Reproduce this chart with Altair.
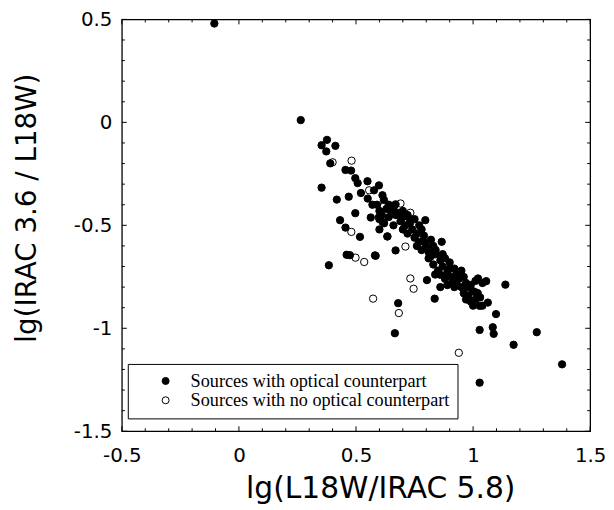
import altair as alt
import pandas as pd

# ---- data ----
opt_x = [-0.105, 0.264, 0.376, 0.353, 0.412, 0.373, 0.390, 0.455, 0.479, 0.353,
         0.497, 0.507, 0.549, 0.598, 0.577, 0.521, 0.418, 0.469, 0.613, 0.619,
         0.669, 0.497, 0.563, 0.598, 0.613, 0.432, 0.455, 0.517, 0.634, 0.796,
         0.866, 0.669, 0.584, 0.460, 0.474, 0.581, 0.384, 0.803, 0.838, 0.836,
         0.680, 0.666, 1.138, 1.056, 1.021, 1.014, 1.028, 1.063, 1.098, 1.028,
         1.084, 1.088, 1.173, 1.272, 1.380, 1.028,
         0.59, 0.60, 0.61, 0.63, 0.64, 0.62, 0.65, 0.66, 0.67, 0.60,
         0.68, 0.70, 0.69, 0.72, 0.71,
         0.73, 0.75, 0.74, 0.77, 0.76, 0.78,
         0.75, 0.77, 0.79, 0.80, 0.82, 0.78, 0.81, 0.83, 0.76,
         0.81, 0.84, 0.86, 0.83, 0.88, 0.87, 0.90, 0.85, 0.89, 0.92,
         0.86, 0.91, 0.93, 0.95, 0.94, 0.96, 0.88,
         0.93, 0.95, 0.97, 0.99, 0.96, 0.98, 1.00,
         0.97, 0.99, 1.01, 1.03, 1.00, 1.04,
         1.01, 1.04, 0.86, 0.89, 0.92,
         0.64, 0.66, 0.70, 0.73, 0.70, 0.72, 0.79, 0.84, 0.82, 0.87,
         0.90, 0.93, 0.98, 1.02, 0.91, 0.57, 0.55, 0.60]
opt_y = [0.48, 0.011, -0.085, -0.111, -0.114, -0.141, -0.199, -0.231, -0.234, -0.317,
         -0.271, -0.295, -0.286, -0.306, -0.330, -0.343, -0.375, -0.361, -0.354, -0.376,
         -0.398, -0.441, -0.462, -0.460, -0.483, -0.475, -0.511, -0.556, -0.554, -0.475,
         -0.580, -0.622, -0.648, -0.643, -0.645, -0.646, -0.694, -0.766, -0.739, -0.856,
         -0.878, -1.024, -0.788, -0.771, -0.758, -0.827, -0.891, -0.875, -0.931, -1.008,
         -0.995, -1.027, -1.080, -1.019, -1.175, -1.264,
         -0.40, -0.43, -0.45, -0.42, -0.46, -0.49, -0.43, -0.50, -0.45, -0.47,
         -0.44, -0.46, -0.48, -0.45, -0.50,
         -0.49, -0.47, -0.52, -0.50, -0.54, -0.52,
         -0.56, -0.58, -0.55, -0.60, -0.57, -0.62, -0.63, -0.60, -0.60,
         -0.66, -0.64, -0.67, -0.69, -0.66, -0.70, -0.68, -0.72, -0.73, -0.71,
         -0.74, -0.75, -0.73, -0.72, -0.76, -0.75, -0.76,
         -0.79, -0.80, -0.78, -0.79, -0.83, -0.84, -0.82,
         -0.86, -0.87, -0.86, -0.85, -0.89, -0.89,
         -0.77, -0.78, -0.80, -0.79, -0.80,
         -0.40, -0.42, -0.43, -0.47, -0.52, -0.54, -0.58, -0.62, -0.65, -0.64,
         -0.71, -0.76, -0.80, -0.83, -0.78, -0.40, -0.37, -0.52]

noopt_x = [0.400, 0.481, 0.556, 0.619, 0.690, 0.732, 0.480, 0.634, 0.711, 0.498,
           0.535, 0.732, 0.746, 0.573, 0.683, 0.939, 1.014]
noopt_y = [-0.194, -0.186, -0.330, -0.407, -0.394, -0.439, -0.532, -0.554, -0.603, -0.657,
           -0.678, -0.758, -0.808, -0.856, -0.926, -1.119, -0.827]

categories = ["Sources with optical counterpart", "Sources with no optical counterpart"]

x_major = [-0.5, 0, 0.5, 1, 1.5]
y_major = [-1.5, -1, -0.5, 0, 0.5]
x_minor = [-0.4, -0.3, -0.2, -0.1, 0.1, 0.2, 0.3, 0.4, 0.6, 0.7, 0.8, 0.9,
           1.1, 1.2, 1.3, 1.4]
y_minor = [-1.4, -1.3, -1.2, -1.1, -0.9, -0.8, -0.7, -0.6, -0.4, -0.3, -0.2, -0.1,
           0.1, 0.2, 0.3, 0.4]

# ---- tables ----
df = pd.concat([
    pd.DataFrame({"x": noopt_x, "y": noopt_y, "type": categories[1]}),
    pd.DataFrame({"x": opt_x, "y": opt_y, "type": categories[0]}),
], ignore_index=True)

W, H = 473, 416
FONT = "DejaVu Sans"

xscale = alt.Scale(domain=[-0.5, 1.5], nice=False, zero=False)
yscale = alt.Scale(domain=[-1.5, 0.5], nice=False, zero=False)

xaxis = alt.Axis(values=x_major, labelExpr="toString(datum.value)", ticks=False,
                 domain=False, grid=False, labelFlush=False, labelFont=FONT, labelFontSize=20,
                 labelColor="black", labelPadding=31, labelBaseline="alphabetic",
                 titleFont=FONT, titleFontSize=30, titleFontWeight="normal",
                 titleColor="black", titleBaseline="alphabetic", titleAlign="left",
                 titleX=125, titleY=67)
yaxis = alt.Axis(values=y_major, labelExpr="toString(datum.value)", ticks=False,
                 domain=False, grid=False, labelFlush=False, labelFont=FONT, labelFontSize=20,
                 labelColor="black", labelPadding=10,
                 titleFont=FONT, titleFontSize=28, titleFontWeight="normal",
                 titleColor="black", titleBaseline="alphabetic", titleAlign="left",
                 titleAngle=270, titleX=-87, titleY=326)

XT = "lg(L18W/IRAC 5.8)"
YT = "lg(IRAC 3.6 / L18W)"

points = alt.Chart(df).mark_point(
    shape="circle", filled=True, size=55, stroke="black", strokeWidth=1, opacity=1
).encode(
    x=alt.X("x:Q", scale=xscale, axis=xaxis, title=XT),
    y=alt.Y("y:Q", scale=yscale, axis=yaxis, title=YT),
    fill=alt.Fill("type:N", scale=alt.Scale(domain=categories, range=["black", "white"]),
                  legend=alt.Legend(orient="none", legendX=6, legendY=348, title=None,
                                    strokeColor="black", fillColor="white", padding=8,
                                    labelFont="Liberation Serif", labelFontSize=18.4,
                                    labelColor="black", labelLimit=600,
                                    symbolType="circle", symbolSize=50,
                                    symbolStrokeColor="black", symbolStrokeWidth=1,
                                    symbolOffset=21, labelOffset=16, rowPadding=0.5)),
)

xt_df = pd.DataFrame({"v": x_major})
xm_df = pd.DataFrame({"v": x_minor})
yt_df = pd.DataFrame({"v": y_major})
ym_df = pd.DataFrame({"v": y_minor})

def xticks(d, ln):
    base = alt.Chart(d).mark_rule(color="black", strokeWidth=1)
    xe = alt.X("v:Q", scale=xscale, axis=xaxis, title=XT)
    return [
        base.encode(x=xe, y=alt.value(H), y2=alt.value(H - ln)),
        base.encode(x=xe, y=alt.value(0), y2=alt.value(ln)),
    ]

def yticks(d, ln):
    base = alt.Chart(d).mark_rule(color="black", strokeWidth=1)
    ye = alt.Y("v:Q", scale=yscale, axis=yaxis, title=YT)
    return [
        base.encode(y=ye, x=alt.value(0), x2=alt.value(ln)),
        base.encode(y=ye, x=alt.value(W), x2=alt.value(W - ln)),
    ]

layers = xticks(xt_df, 5) + xticks(xm_df, 3) + yticks(yt_df, 5) + yticks(ym_df, 3) + [points]

chart = alt.layer(*layers).properties(
    width=W, height=H,
    autosize=alt.AutoSizeParams(type="none"),
    padding={"left": 115, "top": 9, "right": 16, "bottom": 75},
    background="white",
).configure_view(stroke="black", strokeWidth=1.3)

chart.save("out.html", embed_options={"renderer": "svg", "actions": False})
